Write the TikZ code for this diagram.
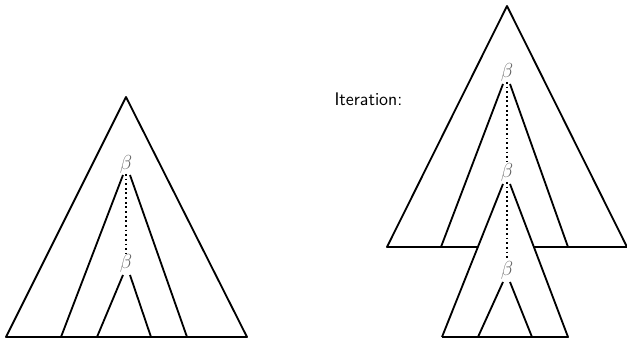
\documentclass[tikz,border=0pt]{standalone}
\usepackage{tikz}
\usetikzlibrary{positioning}
\begin{document}
\begin{tikzpicture}[x=0.025cm, y=-0.025cm, line width=1.3pt, line join=round,
  bt/.style={text=black!60, inner sep=0pt, font=\fontsize{14}{16}\selectfont},
  lbl/.style={font=\sffamily\fontsize{13}{15}\selectfont, anchor=west}]
  \useasboundingbox (0,0) rectangle (627,339);

  % left: single tree
  \draw (6,337) -- (126,97) -- (247,337) -- cycle;
  \node[bt] (bl1) at (126,164) {$\beta$};
  \node[bt] (bl2) at (126,263) {$\beta$};
  \draw (123,175) -- (61,337);
  \draw (130,175) -- (187,337);
  \draw (123,275) -- (97,337);
  \draw (130,275) -- (151,337);
  \draw[dotted] (bl1.south) -- (bl2.north);

  % right: iterated tree
  \node[lbl] (it) at (329,99) {Iteration:};
  \draw (478,247) -- (387,247) -- (507,6) -- (627,247) -- (533,247);
  \node[bt] (br1) at (507,72) {$\beta$};
  \node[bt] (br2) at (507,172) {$\beta$};
  \node[bt] (br3) at (507,270) {$\beta$};
  \draw (503,84) -- (441,247);
  \draw (510,84) -- (568,247);
  \draw (442,337) -- (503,184) ;
  \draw (510,184) -- (568,337) -- (442,337);
  \draw (503,282) -- (478,337);
  \draw (510,282) -- (532,337);
  \draw[dotted] (br1.south) -- (br2.north);
  \draw[dotted] (br2.south) -- (br3.north);
\end{tikzpicture}
\end{document}
